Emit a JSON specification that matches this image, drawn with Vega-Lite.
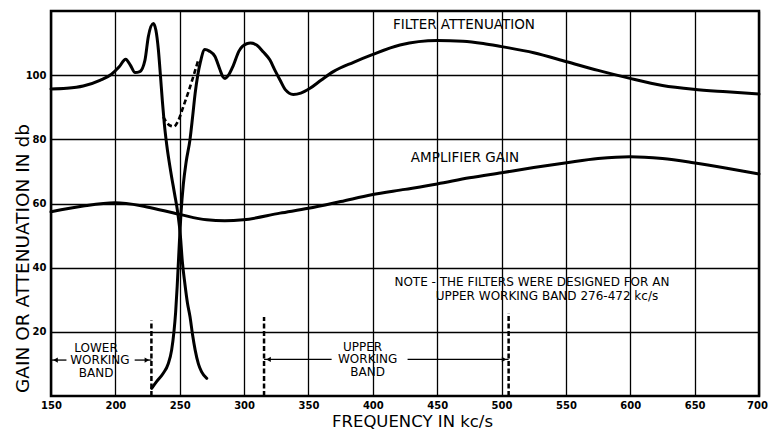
{
  "$schema": "https://vega.github.io/schema/vega-lite/v6.json",
  "width": 708,
  "height": 385,
  "autosize": {"type": "none"},
  "padding": {"left": 51, "top": 11, "right": 9, "bottom": 33},
  "background": "white",
  "config": {
    "view": {"stroke": "black", "strokeWidth": 2.5},
    "font": "DejaVu Sans"
  },
  "datasets": {
    "curves": [
      {"s": "A", "x": 150, "y": 95.7}, {"s": "A", "x": 162, "y": 95.9}, {"s": "A", "x": 175, "y": 96.6}, {"s": "A", "x": 188, "y": 98.4}, {"s": "A", "x": 197, "y": 100.3}, {"s": "A", "x": 203, "y": 102.6}, {"s": "A", "x": 208, "y": 105}, {"s": "A", "x": 211.5, "y": 103.2}, {"s": "A", "x": 215.3, "y": 100.8}, {"s": "A", "x": 219, "y": 101.1}, {"s": "A", "x": 223, "y": 104.7}, {"s": "A", "x": 225.6, "y": 112}, {"s": "A", "x": 229.5, "y": 116.1}, {"s": "A", "x": 231.5, "y": 114}, {"s": "A", "x": 233.4, "y": 108}, {"s": "A", "x": 235, "y": 100}, {"s": "A", "x": 236.5, "y": 92}, {"s": "A", "x": 238, "y": 85}, {"s": "A", "x": 240, "y": 78}, {"s": "A", "x": 243, "y": 70}, {"s": "A", "x": 246, "y": 63}, {"s": "A", "x": 248.5, "y": 57}, {"s": "A", "x": 250.5, "y": 50}, {"s": "A", "x": 252, "y": 42}, {"s": "A", "x": 254, "y": 35}, {"s": "A", "x": 256, "y": 29}, {"s": "A", "x": 258, "y": 24.7}, {"s": "A", "x": 260, "y": 19}, {"s": "A", "x": 262, "y": 14.3}, {"s": "A", "x": 264.5, "y": 10}, {"s": "A", "x": 267, "y": 7.5}, {"s": "A", "x": 271, "y": 5.5},
      {"s": "B", "x": 228.2, "y": 2.4}, {"s": "B", "x": 232, "y": 4.5}, {"s": "B", "x": 237.2, "y": 7.1}, {"s": "B", "x": 241, "y": 10}, {"s": "B", "x": 243.7, "y": 14.3}, {"s": "B", "x": 245.5, "y": 20}, {"s": "B", "x": 246.8, "y": 26}, {"s": "B", "x": 248, "y": 34}, {"s": "B", "x": 249, "y": 42}, {"s": "B", "x": 250, "y": 50}, {"s": "B", "x": 251, "y": 57}, {"s": "B", "x": 252.8, "y": 66}, {"s": "B", "x": 255, "y": 73}, {"s": "B", "x": 258, "y": 80}, {"s": "B", "x": 260, "y": 87}, {"s": "B", "x": 262, "y": 94.4}, {"s": "B", "x": 264, "y": 100}, {"s": "B", "x": 266, "y": 104}, {"s": "B", "x": 269.5, "y": 108}, {"s": "B", "x": 273, "y": 107.5}, {"s": "B", "x": 277.4, "y": 105.8}, {"s": "B", "x": 281, "y": 102}, {"s": "B", "x": 283.5, "y": 99.5}, {"s": "B", "x": 285.2, "y": 99}, {"s": "B", "x": 287.5, "y": 99.8}, {"s": "B", "x": 291.6, "y": 103}, {"s": "B", "x": 296, "y": 107.5}, {"s": "B", "x": 302, "y": 109.8}, {"s": "B", "x": 305, "y": 110}, {"s": "B", "x": 310, "y": 109.3}, {"s": "B", "x": 315, "y": 107.2}, {"s": "B", "x": 320.1, "y": 104.7}, {"s": "B", "x": 324, "y": 101.5}, {"s": "B", "x": 327.9, "y": 98.5}, {"s": "B", "x": 332, "y": 95.5}, {"s": "B", "x": 338.2, "y": 94}, {"s": "B", "x": 344, "y": 94.4}, {"s": "B", "x": 351.2, "y": 95.9}, {"s": "B", "x": 360, "y": 98.5}, {"s": "B", "x": 369.3, "y": 101.1}, {"s": "B", "x": 385, "y": 104}, {"s": "B", "x": 399.1, "y": 106.3}, {"s": "B", "x": 421.1, "y": 109.4}, {"s": "B", "x": 450.1, "y": 110.8}, {"s": "B", "x": 470, "y": 110.6}, {"s": "B", "x": 485.8, "y": 109.9}, {"s": "B", "x": 500.1, "y": 108.9}, {"s": "B", "x": 525, "y": 107}, {"s": "B", "x": 550.6, "y": 104.2}, {"s": "B", "x": 575, "y": 101.5}, {"s": "B", "x": 599.8, "y": 99}, {"s": "B", "x": 625, "y": 96.8}, {"s": "B", "x": 649, "y": 95.6}, {"s": "B", "x": 675, "y": 94.8}, {"s": "B", "x": 700, "y": 94.1},
      {"s": "G", "x": 150, "y": 57.4}, {"s": "G", "x": 175, "y": 59.2}, {"s": "G", "x": 199.7, "y": 60.2}, {"s": "G", "x": 220, "y": 59.3}, {"s": "G", "x": 235, "y": 58}, {"s": "G", "x": 250.2, "y": 56.6}, {"s": "G", "x": 271, "y": 54.9}, {"s": "G", "x": 285, "y": 54.6}, {"s": "G", "x": 299.4, "y": 54.9}, {"s": "G", "x": 327.9, "y": 57}, {"s": "G", "x": 349.9, "y": 58.5}, {"s": "G", "x": 375, "y": 60.6}, {"s": "G", "x": 399.1, "y": 62.7}, {"s": "G", "x": 425, "y": 64.4}, {"s": "G", "x": 450.1, "y": 66.1}, {"s": "G", "x": 475, "y": 68}, {"s": "G", "x": 500.1, "y": 69.6}, {"s": "G", "x": 525, "y": 71.2}, {"s": "G", "x": 550.6, "y": 72.7}, {"s": "G", "x": 575, "y": 74}, {"s": "G", "x": 599.8, "y": 74.6}, {"s": "G", "x": 625, "y": 74}, {"s": "G", "x": 649, "y": 72.7}, {"s": "G", "x": 675, "y": 71}, {"s": "G", "x": 700, "y": 69.2},
      {"s": "D", "x": 237.2, "y": 87}, {"s": "D", "x": 239.5, "y": 85.5}, {"s": "D", "x": 242.4, "y": 84.3}, {"s": "D", "x": 245.5, "y": 84}, {"s": "D", "x": 248.5, "y": 85.5}, {"s": "D", "x": 252.8, "y": 90.2}, {"s": "D", "x": 256.5, "y": 94.5}, {"s": "D", "x": 260.5, "y": 99.5}, {"s": "D", "x": 264.4, "y": 104.7}
    ],
    "bandEdges": [
      {"x": 228, "y": 0, "y2": 23.5},
      {"x": 315.5, "y": 0, "y2": 24.6},
      {"x": 505.5, "y": 0, "y2": 25.8}
    ],
    "arrowLines": [
      {"x": 150, "x2": 162, "y": 11.2},
      {"x": 215, "x2": 228, "y": 11.2},
      {"x": 315.5, "x2": 368, "y": 11.4},
      {"x": 427, "x2": 505.5, "y": 11.4}
    ],
    "arrowHeads": [
      {"x": 153.5, "y": 11.2, "dir": "left"},
      {"x": 224.5, "y": 11.2, "dir": "right"},
      {"x": 319, "y": 11.4, "dir": "left"},
      {"x": 502, "y": 11.4, "dir": "right"}
    ],
    "labels": [
      {"kind": "curve", "x": 470.8, "y": 115.6, "text": "FILTER ATTENUATION"},
      {"kind": "curve", "x": 471.6, "y": 74.1, "text": "AMPLIFIER GAIN"},
      {"kind": "band", "x": 185, "y": 15.1, "text": "LOWER"},
      {"kind": "band", "x": 188, "y": 11.2, "text": "WORKING"},
      {"kind": "band", "x": 185, "y": 7.3, "text": "BAND"},
      {"kind": "band", "x": 392, "y": 15.3, "text": "UPPER"},
      {"kind": "band", "x": 396, "y": 11.4, "text": "WORKING"},
      {"kind": "band", "x": 396, "y": 7.5, "text": "BAND"},
      {"kind": "note", "x": 523.6, "y": 35.6, "text": "NOTE - THE FILTERS WERE DESIGNED FOR AN"},
      {"kind": "note", "x": 535.3, "y": 31.3, "text": "UPPER WORKING BAND 276-472 kc/s"}
    ]
  },
  "encoding": {
    "x": {
      "field": "x", "type": "quantitative",
      "scale": {"domain": [150, 700], "nice": false, "zero": false},
      "axis": {
        "title": "FREQUENCY IN kc/s",
        "values": [150, 200, 250, 300, 350, 400, 450, 500, 550, 600, 650, 700],
        "grid": true, "gridColor": "black", "gridWidth": 1.3, "gridOpacity": 1,
        "domain": false, "ticks": false,
        "labelFont": "DejaVu Sans", "labelFontSize": 10, "labelFontWeight": "bold", "labelColor": "black",
        "labelPadding": 4, "labelFlush": false,
        "labelOffset": {"expr": "datum.value === 700 ? -2 : 0"},
        "titleFont": "DejaVu Sans", "titleFontSize": 16.5, "titleFontWeight": "normal", "titleColor": "black",
        "titleBaseline": "alphabetic", "titleY": 30, "titleX": 361
      }
    },
    "y": {
      "field": "y", "type": "quantitative",
      "scale": {"domain": [0, 120], "nice": false},
      "axis": {
        "title": "GAIN OR ATTENUATION IN db",
        "values": [20, 40, 60, 80, 100],
        "grid": true, "gridColor": "black", "gridWidth": 1.3, "gridOpacity": 1,
        "domain": false, "ticks": false,
        "labelFont": "DejaVu Sans", "labelFontSize": 10, "labelFontWeight": "bold", "labelColor": "black",
        "labelPadding": 5,
        "titleFont": "DejaVu Sans", "titleFontSize": 18.5, "titleFontWeight": "normal", "titleColor": "black",
        "titleAngle": -90, "titleX": -29, "titleY": 247, "titleAlign": "center", "titleBaseline": "middle"
      }
    }
  },
  "layer": [
    {
      "data": {"name": "curves"},
      "transform": [{"filter": "datum.s !== 'D'"}],
      "mark": {"type": "line", "color": "black", "strokeWidth": 3, "interpolate": "monotone", "strokeCap": "round", "strokeJoin": "round"},
      "encoding": {
        "detail": {"field": "s"}
      }
    },
    {
      "data": {"name": "curves"},
      "transform": [{"filter": "datum.s === 'D'"}],
      "mark": {"type": "line", "color": "black", "strokeWidth": 2.6, "interpolate": "monotone", "strokeDash": [5, 3]},
      "encoding": {}
    },
    {
      "data": {"name": "bandEdges"},
      "mark": {"type": "rule", "color": "black", "strokeWidth": 2.5, "strokeDash": [5, 2.5]},
      "encoding": {
        "y2": {"field": "y2"}
      }
    },
    {
      "data": {"name": "arrowLines"},
      "mark": {"type": "rule", "color": "black", "strokeWidth": 1.3},
      "encoding": {
        "x2": {"field": "x2"}
      }
    },
    {
      "data": {"name": "arrowHeads"},
      "mark": {"type": "point", "filled": true, "color": "black", "size": 28, "opacity": 1},
      "encoding": {
        "shape": {"field": "dir", "type": "nominal", "scale": {"domain": ["left", "right"], "range": ["triangle-left", "triangle-right"]}, "legend": null}
      }
    },
    {
      "data": {"name": "labels"},
      "transform": [{"filter": "datum.kind === 'curve'"}],
      "mark": {"type": "text", "font": "DejaVu Sans", "fontSize": 13.5, "color": "black", "align": "center", "baseline": "middle"},
      "encoding": {
        "text": {"field": "text"}
      }
    },
    {
      "data": {"name": "labels"},
      "transform": [{"filter": "datum.kind === 'band'"}],
      "mark": {"type": "text", "font": "DejaVu Sans", "fontSize": 12, "color": "black", "align": "center", "baseline": "middle"},
      "encoding": {
        "text": {"field": "text"}
      }
    },
    {
      "data": {"name": "labels"},
      "transform": [{"filter": "datum.kind === 'note'"}],
      "mark": {"type": "text", "font": "DejaVu Sans", "fontSize": 12, "color": "black", "align": "center", "baseline": "middle"},
      "encoding": {
        "text": {"field": "text"}
      }
    }
  ]
}
